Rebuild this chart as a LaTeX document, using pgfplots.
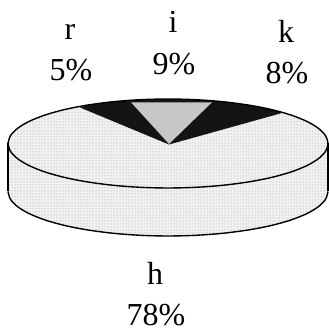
\documentclass[border=0pt]{standalone}
\usepackage{fontspec}
\setmainfont{Liberation Serif}
\usepackage{pgfplots}
\pgfplotsset{compat=1.18}
\usetikzlibrary{patterns}
\definecolor{dotfill}{gray}{0.95}
\definecolor{dotink}{gray}{0.55}
\definecolor{slicei}{gray}{0.78}
\definecolor{slicedark}{gray}{0.08}
\tikzset{lab/.style={anchor=base, inner sep=0pt, font=\fontsize{32}{32}\selectfont}}
\begin{document}
\begin{tikzpicture}
\useasboundingbox (0,0) rectangle (329pt,329pt);
\begin{axis}[
  scale only axis, width=329pt, height=329pt,
  xmin=0, xmax=329, ymin=0, ymax=329,
  hide axis, clip=false
]
  % side wall
  \addplot[draw=none, fill=dotfill, postaction={pattern=dots, pattern color=dotink}] coordinates {
    (8,185.5) (8,137.5) (10.4,129.8) (17.6,122.3) (29.4,115.25) (45.4,108.9) (65.2,103.4) (88,99) (113.3,95.7) (140.2,93.7) (168,93)
    (195.8,93.7) (222.7,95.7) (248,99) (270.8,103.4) (290.6,108.9) (306.6,115.25) (318.4,122.3) (325.6,129.8) (328,137.5) (328,185.5)};
  % top face, slice h
  \addplot[draw=none, fill=dotfill, postaction={pattern=dots, pattern color=dotink}] coordinates {
    (328,185.5) (325.6,193.2) (318.4,200.7) (306.6,207.75) (290.6,214.1) (270.8,219.6) (248,224) (222.7,227.3) (195.8,229.3) (168,230)
    (140.2,229.3) (113.3,227.3) (88,224) (65.2,219.6) (45.4,214.1) (29.4,207.75) (17.6,200.7) (10.4,193.2) (8,185.5)
    (10.4,177.8) (17.6,170.3) (29.4,163.25) (45.4,156.9) (65.2,151.4) (88,147) (113.3,143.7) (140.2,141.7) (168,141)
    (195.8,141.7) (222.7,143.7) (248,147) (270.8,151.4) (290.6,156.9) (306.6,163.25) (318.4,170.3) (325.6,177.8)};
  % slices r, k
  \addplot[draw=none, fill=slicedark] coordinates {
    (169,184.5) (80,221.5) (88,224) (113.3,227.3) (140.2,229.3) (168,230) (195.8,229.3) (222.7,227.3) (248,224) (270.8,219.6) (282,216)};
  % slice i
  \addplot[draw=none, fill=slicei] coordinates {(169,185) (131,226.7) (212,226.7)};
  % outlines
  \addplot[black, line width=1.4pt, smooth] coordinates {
    (8,185.5) (10.4,193.2) (17.6,200.7) (29.4,207.75) (45.4,214.1) (65.2,219.6) (88,224) (113.3,227.3) (140.2,229.3) (168,230)
    (195.8,229.3) (222.7,227.3) (248,224) (270.8,219.6) (290.6,214.1) (306.6,207.75) (318.4,200.7) (325.6,193.2) (328,185.5)
    (325.6,177.8) (318.4,170.3) (306.6,163.25) (290.6,156.9) (270.8,151.4) (248,147) (222.7,143.7) (195.8,141.7) (168,141)
    (140.2,141.7) (113.3,143.7) (88,147) (65.2,151.4) (45.4,156.9) (29.4,163.25) (17.6,170.3) (10.4,177.8) (8,185.5)};
  \addplot[black, line width=1.4pt, smooth] coordinates {
    (8,137.5) (10.4,129.8) (17.6,122.3) (29.4,115.25) (45.4,108.9) (65.2,103.4) (88,99) (113.3,95.7) (140.2,93.7) (168,93)
    (195.8,93.7) (222.7,95.7) (248,99) (270.8,103.4) (290.6,108.9) (306.6,115.25) (318.4,122.3) (325.6,129.8) (328,137.5)};
  \addplot[black, line width=1.4pt] coordinates {(8,185.5) (8,137.5)};
  \addplot[black, line width=1.4pt] coordinates {(328,185.5) (328,137.5)};
  % labels
  \node[lab] at (axis cs:70,289) {r};
  \node[lab] at (axis cs:71,248) {5\%};
  \node[lab] at (axis cs:173,296) {i};
  \node[lab] at (axis cs:174,254) {9\%};
  \node[lab] at (axis cs:286,286) {k};
  \node[lab] at (axis cs:287,245) {8\%};
  \node[lab] at (axis cs:155,44) {h};
  \node[lab] at (axis cs:156,3) {78\%};
\end{axis}
\end{tikzpicture}
\end{document}
